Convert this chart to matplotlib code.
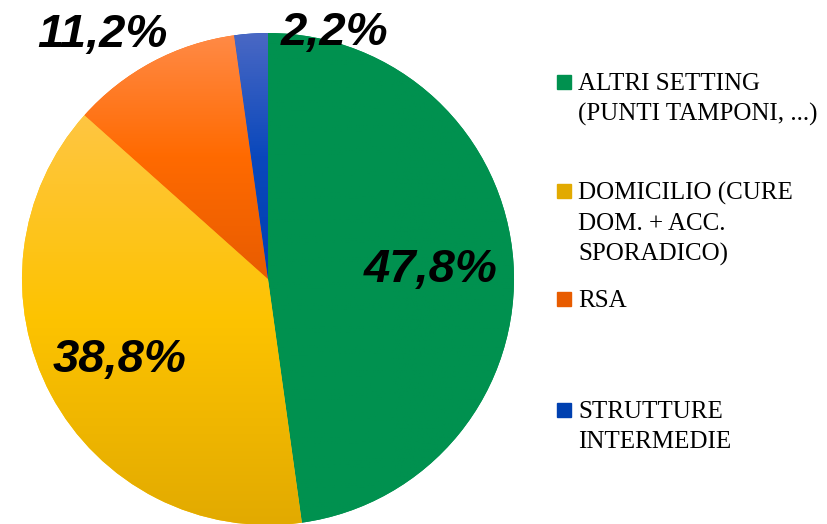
import numpy as np
import matplotlib.pyplot as plt
from matplotlib.colors import LinearSegmentedColormap
from matplotlib.patches import Rectangle

categories = ["ALTRI SETTING\n(PUNTI TAMPONI, ...)", "DOMICILIO (CURE\nDOM. + ACC.\nSPORADICO)",
              "RSA", "STRUTTURE\nINTERMEDIE"]
values = [47.8, 38.8, 11.2, 2.2]
labels = ["47,8%", "38,8%", "11,2%", "2,2%"]

# top / middle / bottom colours of each slice gradient
top_cols = ["#00914f", "#ffc642", "#ff8a46", "#4a68c4"]
mid_cols = ["#00914f", "#fdc300", "#ff6a00", "#0a48bc"]
bot_cols = ["#00914f", "#e2aa00", "#e85c00", "#0040b0"]

W, H = 827, 524
fig = plt.figure(figsize=(W / 100, H / 100), dpi=100)
ax = fig.add_axes([0, 0, 1, 1])

cx, cy, r = 268, H - 279, 246
wedges, _ = ax.pie(values, center=(cx, cy), radius=r, startangle=90,
                   counterclock=False, colors=mid_cols, frame=True)
ax.set_xlim(0, W)
ax.set_ylim(0, H)
ax.set_aspect("equal")
ax.axis("off")

grad = np.linspace(0, 1, 256).reshape(-1, 1)
for w, c1, c2, c3 in zip(wedges, top_cols, mid_cols, bot_cols):
    bb = w.get_path().get_extents()
    cmap = LinearSegmentedColormap.from_list("g", [c3, c2, c1])
    im = ax.imshow(grad, cmap=cmap, aspect="auto", origin="lower",
                   extent=(bb.x0, bb.x1, bb.y0, bb.y1), zorder=2)
    im.set_clip_path(w)
ax.set_xlim(0, W)
ax.set_ylim(0, H)

# percentage labels
lab_pos = [(431, 270), (120, 360), (102, 35), (335, 33)]
for t, (x, y) in zip(labels, lab_pos):
    ax.text(x, H - y, t, ha="center", va="center", fontsize=34,
            family="Liberation Sans", weight="bold", style="italic", zorder=5)

# legend
leg_y = [82, 191, 299, 410]
for cat, c1, c3, y in zip(categories, top_cols, bot_cols, leg_y):
    ax.add_patch(Rectangle((557, H - y - 7), 14, 14, color=c3, zorder=5))
    ax.text(578, H - y + 9, cat, ha="left", va="top", fontsize=18,
            family="Liberation Serif", linespacing=1.45, zorder=5)

fig.savefig("out.png", dpi=100)
